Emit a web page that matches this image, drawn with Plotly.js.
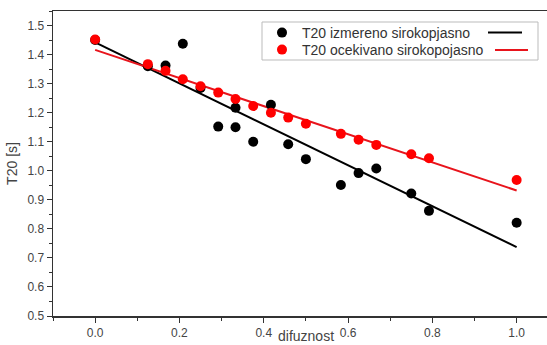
<!DOCTYPE html>
<html>
<head>
<meta charset="utf-8">
<script src="https://cdn.plot.ly/plotly-3.0.1.min.js"></script>
<style>html,body{margin:0;padding:0;background:#fff;}#chart{width:547px;height:345px;}</style>
</head>
<body>
<div id="chart"></div>
<script>
// Measured T20 (black)
const measuredX = [0, 0.125, 0.167, 0.208, 0.25, 0.292, 0.333, 0.333, 0.375, 0.417, 0.458, 0.5, 0.583, 0.625, 0.667, 0.75, 0.792, 1.0];
const measuredY = [1.45, 1.36, 1.362, 1.437, 1.285, 1.152, 1.217, 1.150, 1.100, 1.227, 1.091, 1.040, 0.951, 0.992, 1.008, 0.922, 0.862, 0.821];
// Expected T20 (red)
const expectedX = [0, 0.125, 0.167, 0.208, 0.25, 0.292, 0.333, 0.375, 0.417, 0.458, 0.5, 0.583, 0.625, 0.667, 0.75, 0.792, 1.0];
const expectedY = [1.452, 1.367, 1.344, 1.315, 1.291, 1.269, 1.247, 1.223, 1.200, 1.183, 1.162, 1.127, 1.107, 1.089, 1.057, 1.043, 0.968];
// Linear fit endpoints
const fitX = [0, 1];
const measuredFitY = [1.442, 0.737];
const expectedFitY = [1.416, 0.932];

const seriesNames = ['T20 izmereno sirokopjasno', 'T20 ocekivano sirokopojasno'];
const xTitle = 'difuznost';
const yTitle = 'T20 [s]';

const font = 'Liberation Sans, Arial, sans-serif';
const axisColor = '#333';

const traces = [
  {x: fitX, y: measuredFitY, mode: 'lines', line: {color: '#000', width: 2}, showlegend: false, hoverinfo: 'skip'},
  {x: fitX, y: expectedFitY, mode: 'lines', line: {color: '#e8141c', width: 2}, showlegend: false, hoverinfo: 'skip'},
  {x: measuredX, y: measuredY, mode: 'markers', name: seriesNames[0], legend: 'legend', marker: {color: '#000', size: 10}},
  {x: expectedX, y: expectedY, mode: 'markers', name: seriesNames[1], legend: 'legend2', marker: {color: '#ff0000', size: 10}}
];

function px(x){ return (x - 53) / 494; }
function py(y){ return (316 - y) / 305; }

const legendBase = {
  xanchor: 'left', yanchor: 'top',
  bgcolor: 'rgba(0,0,0,0)', borderwidth: 0,
  font: {size: 14, color: '#333', family: font}
};

const layout = {
  width: 547, height: 345,
  margin: {l: 53, r: 0, t: 11, b: 29},
  paper_bgcolor: '#fff', plot_bgcolor: '#fff',
  font: {family: font, color: axisColor, size: 12},
  xaxis: {
    range: [-0.1, 1.072], tick0: 0, dtick: 0.2, tickformat: '.1f',
    ticks: 'outside', ticklen: 5, tickwidth: 1, tickcolor: axisColor,
    showline: true, linecolor: axisColor, linewidth: 1.5, mirror: true,
    showgrid: false, zeroline: false,
    minor: {dtick: 0.1, ticks: 'outside', ticklen: 3, tickcolor: axisColor, showgrid: false},
    tickfont: {size: 12, color: '#444'}
  },
  yaxis: {
    range: [0.5, 1.55], tick0: 0.5, dtick: 0.1, tickformat: '.1f',
    ticks: 'outside', ticklen: 5, tickwidth: 1, tickcolor: axisColor,
    showline: true, linecolor: axisColor, linewidth: 1.5, mirror: false,
    showgrid: false, zeroline: false,
    minor: {dtick: 0.05, ticks: 'outside', ticklen: 3, tickcolor: axisColor, showgrid: false},
    tickfont: {size: 12, color: '#444'},
    title: {text: yTitle, font: {size: 14, color: '#444'}, standoff: 6}
  },
  showlegend: true,
  legend: Object.assign({x: px(262), y: py(17)}, legendBase),
  legend2: Object.assign({x: px(262), y: py(34)}, legendBase),
  annotations: [
    {text: xTitle, xref: 'paper', yref: 'paper', x: px(306), y: py(345), xanchor: 'center', yanchor: 'bottom',
     showarrow: false, borderpad: 0, font: {size: 14, color: '#444'}}
  ],
  shapes: [
    {type: 'rect', xref: 'paper', yref: 'paper', x0: px(262), x1: px(538), y0: py(60), y1: py(22),
     line: {color: '#bbb', width: 1}, fillcolor: '#fff', layer: 'above'},
    {type: 'line', xref: 'paper', yref: 'paper', x0: px(488), x1: px(522), y0: py(32.5), y1: py(32.5),
     line: {color: '#000', width: 2}, layer: 'above'},
    {type: 'line', xref: 'paper', yref: 'paper', x0: px(495), x1: px(528), y0: py(50), y1: py(50),
     line: {color: '#e8141c', width: 2}, layer: 'above'}
  ]
};

Plotly.newPlot('chart', traces, layout, {displayModeBar: false, staticPlot: true});
</script>
</body>
</html>
